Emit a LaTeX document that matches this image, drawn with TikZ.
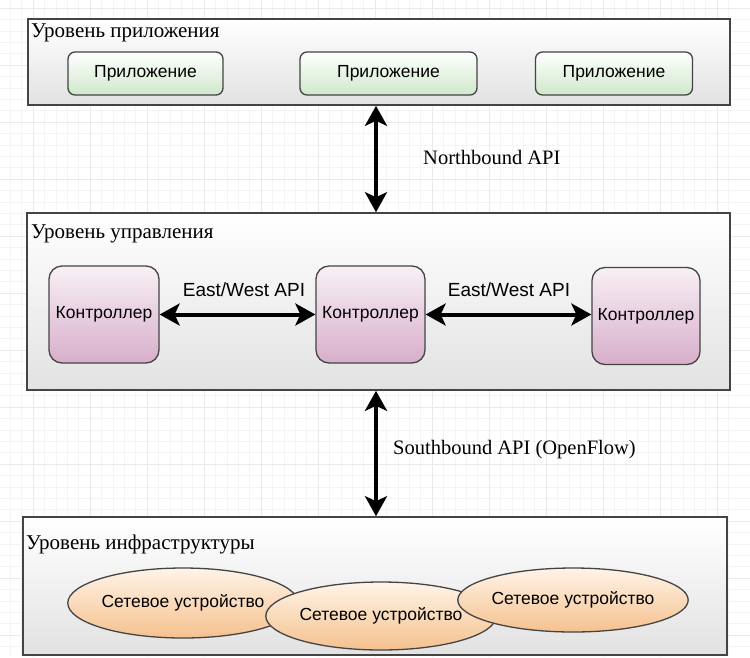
\documentclass[tikz,border=0pt]{standalone}
\usepackage{fontspec}
\setmainfont{Liberation Serif}
\newfontfamily\boxfont{Liberation Sans}
\usetikzlibrary{arrows.meta,shapes.geometric,calc}

\definecolor{gridminor}{HTML}{F4F4F4}
\definecolor{gridmajor}{HTML}{EAEAEA}
\definecolor{edge}{HTML}{444444}
\definecolor{appbot}{HTML}{CFE8CB}
\definecolor{ctrltop}{HTML}{F8F0F5}
\definecolor{ctrlbot}{HTML}{D8AECB}
\definecolor{devtop}{HTML}{FFF4E8}
\definecolor{devbot}{HTML}{F5C18E}
\definecolor{layerbot}{HTML}{E2E2E2}

\tikzset{
  layer/.style={draw=edge, line width=1.6pt, top color=white, bottom color=layerbot,
    minimum width=#1, inner sep=0pt},
  layertitle/.style={anchor=base west, inner sep=0pt, font=\fontsize{21}{24}\selectfont},
  apibox/.style={draw=edge, line width=1.3pt, rounded corners=7pt, top color=white,
    bottom color=appbot, inner sep=0pt, font=\boxfont\fontsize{17.5}{20}\selectfont},
  ctrlbox/.style={draw=edge, line width=1.3pt, rounded corners=13pt, top color=ctrltop,
    bottom color=ctrlbot, inner sep=0pt, font=\boxfont\fontsize{17.5}{20}\selectfont},
  device/.style={ellipse, draw=edge, line width=1.3pt, top color=devtop, bottom color=devbot,
    inner sep=0pt, font=\boxfont\fontsize{17.5}{20}\selectfont},
  apilabel/.style={inner sep=0pt, font=\fontsize{20.5}{24}\selectfont},
  ewlabel/.style={inner sep=0pt, font=\boxfont\fontsize{19}{22}\selectfont},
  biarrow/.style={line width=4pt,
    {Stealth[length=20pt,width=22pt,inset=5pt]}-{Stealth[length=20pt,width=22pt,inset=5pt]}}
}

\begin{document}
\begin{tikzpicture}[x=1pt,y=-1pt]
  \useasboundingbox (0,0) rectangle (750,657);
  \fill[white] (0,0) rectangle (750,657);

  % faint background grid
  \foreach \gx in {0,...,66} {
    \draw[gridminor, line width=0.6pt] ({-24+11.4*\gx},0) -- ({-24+11.4*\gx},657);
  }
  \foreach \gy in {0,...,58} {
    \draw[gridminor, line width=0.6pt] (0,{8+11.4*\gy}) -- (750,{8+11.4*\gy});
  }
  \foreach \gx in {0,...,13} {
    \draw[gridmajor, line width=0.8pt] ({33+57*\gx},0) -- ({33+57*\gx},657);
  }
  \foreach \gy in {0,...,11} {
    \draw[gridmajor, line width=0.8pt] (0,{8+57*\gy}) -- (750,{8+57*\gy});
  }

  % layers
  \node[layer=702pt, minimum height=86pt] (appLayer) at (379,62) {};
  \node[layer=703pt, minimum height=177pt] (ctrlLayer) at (378.5,301.5) {};
  \node[layer=704pt, minimum height=138pt] (infraLayer) at (375,586) {};

  \node[layertitle] (appTitle) at (31,37) {Уровень приложения};
  \node[layertitle] (ctrlTitle) at (31,238) {Уровень управления};
  \node[layertitle] (infraTitle) at (26,549) {Уровень инфраструктуры};

  % applications
  \node[apibox, minimum width=155pt, minimum height=43pt] (app1) at (145.5,73.5) {Приложение};
  \node[apibox, minimum width=177pt, minimum height=43pt] (app2) at (388.5,73.5) {Приложение};
  \node[apibox, minimum width=157pt, minimum height=43pt] (app3) at (614,73.5) {Приложение};

  % controllers
  \node[ctrlbox, minimum width=110pt, minimum height=97pt] (c1) at (104,314.5) {Контроллер};
  \node[ctrlbox, minimum width=109pt, minimum height=97pt] (c2) at (370.5,314.5) {Контроллер};
  \node[ctrlbox, minimum width=108pt, minimum height=97pt] (c3) at (646,316) {Контроллер};

  \node[ewlabel] (ew1) at (244,290) {East/West API};
  \node[ewlabel] (ew2) at (509,290) {East/West API};

  \draw[biarrow] (c1.east) -- (c1.east -| c2.west);
  \draw[biarrow] (c2.east) -- (c2.east -| c3.west);

  % network devices
  \node[device, minimum width=230pt, minimum height=70pt] (d1) at (183,603) {Сетевое устройство};
  \node[device, minimum width=226pt, minimum height=68pt] (d2) at (381,616) {Сетевое устройство};
  \node[device, minimum width=230pt, minimum height=64pt] (d3) at (573,600) {Сетевое устройство};

  % vertical interfaces
  \coordinate (axis) at (376,0);
  \draw[biarrow] (appLayer.south -| axis) -- (ctrlLayer.north -| axis);
  \draw[biarrow] (ctrlLayer.south -| axis) -- (infraLayer.north -| axis);

  \node[apilabel, anchor=west] (nb) at (423,157) {Northbound API};
  \node[apilabel, anchor=west] (sb) at (393,450) {Southbound API (OpenFlow)};
\end{tikzpicture}
\end{document}
